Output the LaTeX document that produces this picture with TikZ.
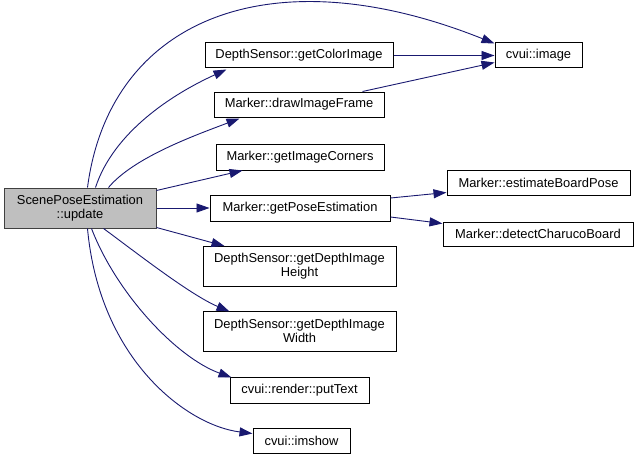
\documentclass[tikz,border=0pt]{standalone}
\usepackage{fontspec}
\setmainfont{Liberation Sans}
\usetikzlibrary{arrows.meta,calc}
\definecolor{edgeblue}{RGB}{25,25,112}
\definecolor{curfill}{RGB}{191,191,191}
\definecolor{curline}{RGB}{64,64,64}
\begin{document}
\begin{tikzpicture}[x=1pt,y=-1pt,
  fn/.style={draw=black, line width=1pt, fill=white, inner sep=0pt, align=center,
    font=\fontsize{12.9}{14.2}\selectfont},
  cur/.style={fn, draw=curline, fill=curfill},
  call/.style={draw=edgeblue, line width=0.9pt, -{Triangle[length=13pt,width=9pt]}},
]
\useasboundingbox (0,0) rectangle (637,460);

% function boxes
\node[cur, minimum width=152pt, minimum height=40pt] (spe) at (80,208) {ScenePoseEstimation\\::update};
\node[fn, minimum width=188pt, minimum height=25pt] (gci) at (299,55.5) {DepthSensor::getColorImage};
\node[fn, minimum width=87pt, minimum height=25pt] (img) at (538.5,55.5) {cvui::image};
\node[fn, minimum width=170pt, minimum height=25pt] (dif) at (299,104.5) {Marker::drawImageFrame};
\node[fn, minimum width=168pt, minimum height=26pt] (gic) at (300,157) {Marker::getImageCorners};
\node[fn, minimum width=180pt, minimum height=26pt] (gpe) at (300,208) {Marker::getPoseEstimation};
\node[fn, minimum width=183pt, minimum height=25pt] (ebp) at (538.5,182.5) {Marker::estimateBoardPose};
\node[fn, minimum width=190pt, minimum height=24pt] (dcb) at (538,234) {Marker::detectCharucoBoard};
\node[fn, minimum width=193pt, minimum height=40pt] (hgt) at (299.5,266.5) {DepthSensor::getDepthImage\\Height};
\node[fn, minimum width=193pt, minimum height=40pt] (wid) at (299.5,331) {DepthSensor::getDepthImage\\Width};
\node[fn, minimum width=139pt, minimum height=26pt] (put) at (299.5,390) {cvui::render::putText};
\node[fn, minimum width=97pt, minimum height=25pt] (ims) at (301.5,440.5) {cvui::imshow};

% calls made by ScenePoseEstimation::update
\draw[call] ($(spe.north west)+(84,0)$) .. controls +(22,-168) and +(-225,-90) .. ($(img.north west)+(0,1)$);
\draw[call] ($(spe.north west)+(92,0)$) .. controls +(18,-55) and +(-55,25) .. ($(gci.south west)+(22,1)$);
\draw[call] ($(spe.north west)+(105,0)$) .. controls +(25,-30) and +(-45,17) .. ($(dif.south west)+(26,1)$);
\draw[call] ($(spe.north east)+(0,3)$) -- ($(gic.south west)+(27,0)$);
\draw[call] (spe.east) -- (gpe.west);
\draw[call] ($(spe.south east)+(0,-1)$) -- ($(hgt.north west)+(22,0)$);
\draw[call] ($(spe.south west)+(100,0)$) .. controls +(30,22) and +(-40,-17) .. ($(wid.north west)+(27,1)$);
\draw[call] ($(spe.south west)+(88,0)$) .. controls +(25,65) and +(-55,-20) .. ($(put.north west)+(2,1)$);
\draw[call] ($(spe.south west)+(84,0)$) .. controls +(12,132) and +(-65,-8) .. ($(ims.west)+(0,-7)$);

% further calls
\draw[call] (gci.east) -- (img.west);
\draw[call] ($(dif.north east)+(-22,0)$) -- ($(img.south west)+(0,-6)$);
\draw[call] ($(gpe.east)+(0,-10)$) -- ($(ebp.south west)+(0,-3)$);
\draw[call] ($(gpe.east)+(0,9)$) -- ($(dcb.north west)+(0,2)$);
\end{tikzpicture}
\end{document}
